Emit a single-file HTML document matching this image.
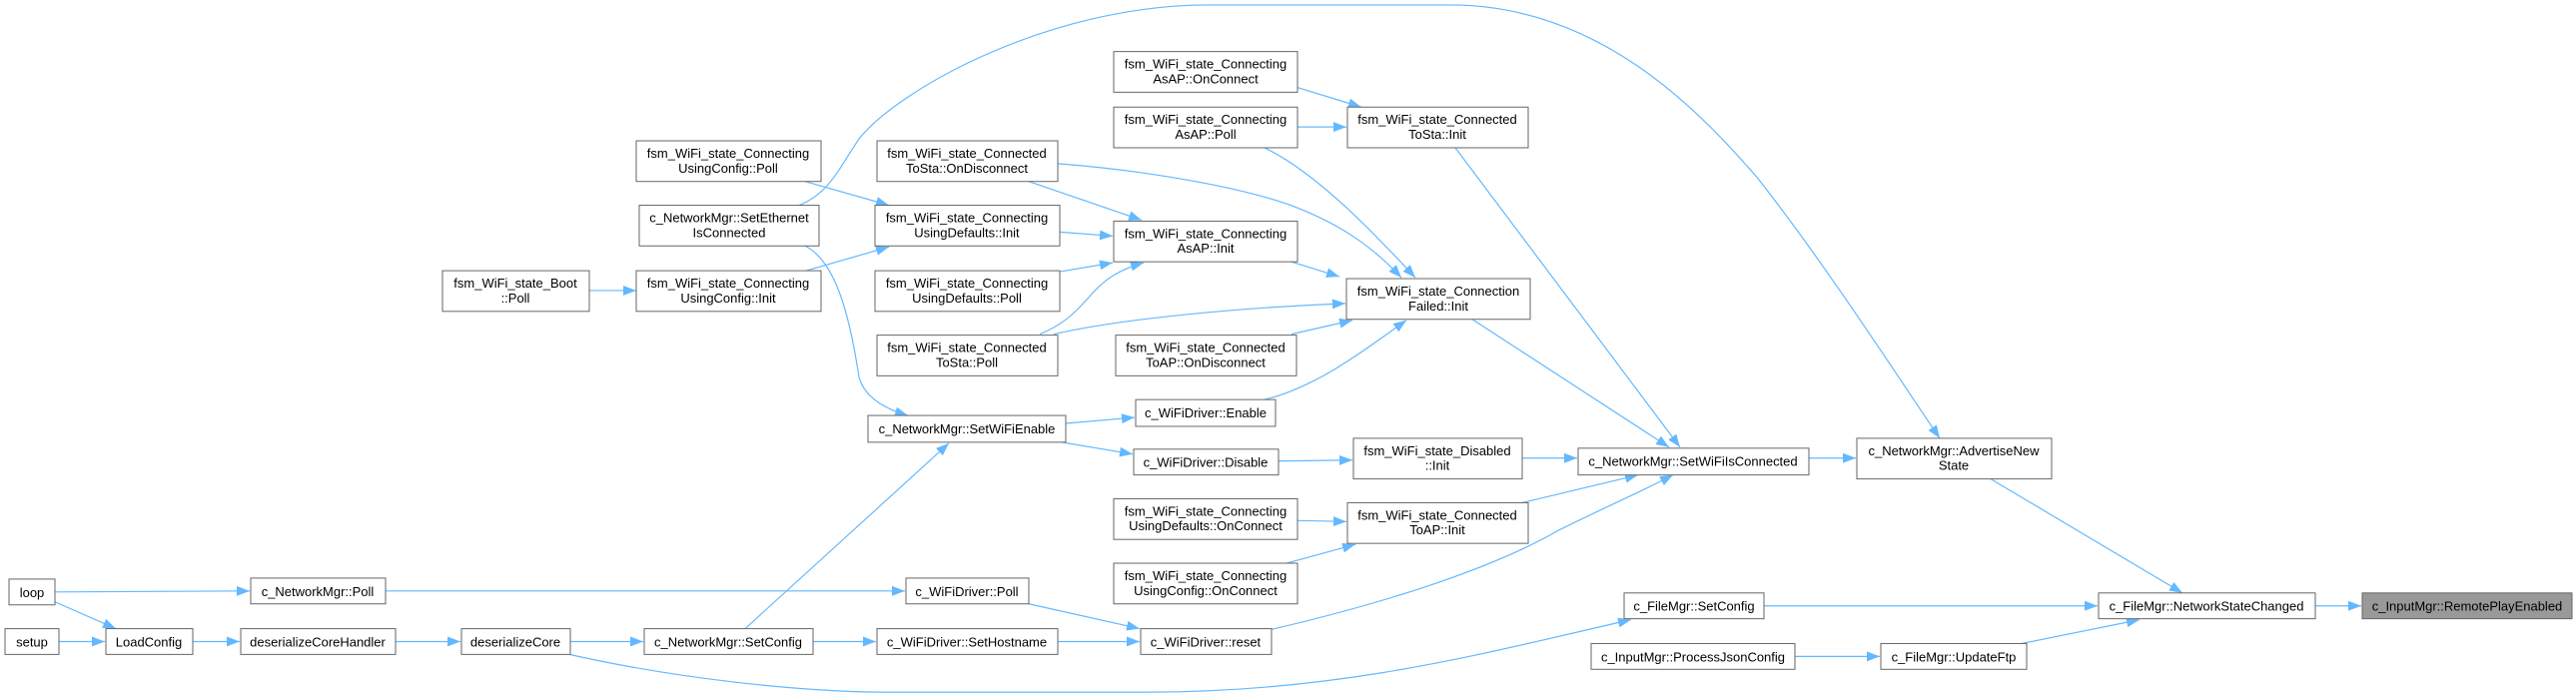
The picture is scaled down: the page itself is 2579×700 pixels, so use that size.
<!DOCTYPE html>
<html><head><meta charset="utf-8"><style>
html,body{margin:0;padding:0;background:#fff;}
svg{display:block;}
text{font-family:"Liberation Sans",Arial,sans-serif;font-size:13px;fill:#000;text-anchor:middle;}
rect{fill:#fff;stroke:#666;stroke-width:1;}
path.e{fill:none;stroke:#63b8ff;stroke-width:1.2;}
</style></head><body>
<svg width="2579" height="700" viewBox="0 0 2579 700" xmlns="http://www.w3.org/2000/svg">
<defs>
<marker id="a" markerUnits="userSpaceOnUse" markerWidth="14" markerHeight="10" refX="13" refY="5" orient="auto">
<path d="M0,0 L13,5 L0,10 Z" fill="#63b8ff"/>
</marker>
</defs>
<g transform="scale(1,0.993)">
<g marker-end="url(#a)">
<path class="e" d="M590,293 L637,293"/>
<path class="e" d="M806,183 L890,207"/>
<path class="e" d="M807,273 L890,249"/>
<path class="e" d="M800,207 C830,195 840,170 860,140 C900,90 1050,5 1210,5 L1452,5 C1600,5 1700,110 1760,180 C1830,270 1900,380 1942,442"/>
<path class="e" d="M806,248 C840,265 852,330 860,380 C865,400 885,412 909,419"/>
<path class="e" d="M1030,183 L1143,222"/>
<path class="e" d="M1059,165 C1150,172 1250,190 1300,210 C1350,230 1380,255 1403,280"/>
<path class="e" d="M1061,234 L1114,238"/>
<path class="e" d="M1061,274 L1114,265"/>
<path class="e" d="M1041,337 C1070,325 1080,310 1090,300 C1105,282 1120,272 1145,265"/>
<path class="e" d="M1055,337 C1130,320 1250,310 1347,306"/>
<path class="e" d="M1266,149 C1320,175 1380,240 1417,280"/>
<path class="e" d="M1293,264 L1341,279"/>
<path class="e" d="M1293,337 L1354,323"/>
<path class="e" d="M1266,403 C1320,390 1370,350 1408,323"/>
<path class="e" d="M1282,83 L1363,108"/>
<path class="e" d="M1299,128 L1348,128"/>
<path class="e" d="M1457,149 L1682,451"/>
<path class="e" d="M1474,322 L1671,451"/>
<path class="e" d="M1067,427 L1136,421"/>
<path class="e" d="M1063,446 L1134,458"/>
<path class="e" d="M1280,465 L1354,464"/>
<path class="e" d="M1524,462 L1579,462"/>
<path class="e" d="M1524,507 L1640,479"/>
<path class="e" d="M1272,635 C1400,605 1500,570 1560,535 C1610,510 1645,495 1675,479"/>
<path class="e" d="M1299,525 L1348,526"/>
<path class="e" d="M1288,568 L1357,549"/>
<path class="e" d="M55,597 L250,596"/>
<path class="e" d="M55,607 L116,634"/>
<path class="e" d="M59,647 L105,647"/>
<path class="e" d="M193,647 L240,647"/>
<path class="e" d="M396,647 L461,647"/>
<path class="e" d="M571,647 L644,647"/>
<path class="e" d="M570,660 C680,685 800,697 880,698 L1150,698 C1350,698 1500,655 1633,625"/>
<path class="e" d="M386,596 L906,596"/>
<path class="e" d="M746,634 L950,447"/>
<path class="e" d="M814,647 L877,647"/>
<path class="e" d="M1030,609 L1141,634"/>
<path class="e" d="M1059,647 L1141,647"/>
<path class="e" d="M1811,462 L1858,462"/>
<path class="e" d="M1993,483 L2185,598"/>
<path class="e" d="M1766,611 L2100,611"/>
<path class="e" d="M2024,649 L2142,625"/>
<path class="e" d="M1797,662 L1882,662"/>
<path class="e" d="M2318,611 L2364,611"/>
</g>
<rect x="637" y="142" width="185" height="41"/><text x="729" y="159">fsm_WiFi_state_Connecting</text><text x="729" y="174">UsingConfig::Poll</text>
<rect x="640" y="207" width="180" height="41"/><text x="730" y="224">c_NetworkMgr::SetEthernet</text><text x="730" y="239">IsConnected</text>
<rect x="443" y="273" width="147" height="41"/><text x="516" y="290">fsm_WiFi_state_Boot</text><text x="516" y="305">::Poll</text>
<rect x="637" y="273" width="185" height="41"/><text x="729" y="290">fsm_WiFi_state_Connecting</text><text x="729" y="305">UsingConfig::Init</text>
<rect x="9" y="584" width="46" height="26"/><text x="32" y="602">loop</text>
<rect x="251" y="583" width="135" height="26"/><text x="318" y="601">c_NetworkMgr::Poll</text>
<rect x="5" y="634" width="54" height="26"/><text x="32" y="652">setup</text>
<rect x="106" y="634" width="87" height="26"/><text x="149" y="652">LoadConfig</text>
<rect x="241" y="634" width="155" height="26"/><text x="318" y="652">deserializeCoreHandler</text>
<rect x="462" y="634" width="109" height="26"/><text x="516" y="652">deserializeCore</text>
<rect x="645" y="634" width="169" height="26"/><text x="729" y="652">c_NetworkMgr::SetConfig</text>

<rect x="1115" y="52" width="184" height="41"/><text x="1207" y="69">fsm_WiFi_state_Connecting</text><text x="1207" y="84">AsAP::OnConnect</text>
<rect x="1115" y="108" width="184" height="41"/><text x="1207" y="125">fsm_WiFi_state_Connecting</text><text x="1207" y="140">AsAP::Poll</text>
<rect x="1349" y="108" width="181" height="41"/><text x="1439" y="125">fsm_WiFi_state_Connected</text><text x="1439" y="140">ToSta::Init</text>
<rect x="878" y="142" width="181" height="41"/><text x="968" y="159">fsm_WiFi_state_Connected</text><text x="968" y="174">ToSta::OnDisconnect</text>
<rect x="876" y="207" width="185" height="41"/><text x="968" y="224">fsm_WiFi_state_Connecting</text><text x="968" y="239">UsingDefaults::Init</text>
<rect x="1115" y="223" width="184" height="41"/><text x="1207" y="240">fsm_WiFi_state_Connecting</text><text x="1207" y="255">AsAP::Init</text>
<rect x="876" y="273" width="185" height="41"/><text x="968" y="290">fsm_WiFi_state_Connecting</text><text x="968" y="305">UsingDefaults::Poll</text>
<rect x="1348" y="281" width="184" height="41"/><text x="1440" y="298">fsm_WiFi_state_Connection</text><text x="1440" y="313">Failed::Init</text>
<rect x="878" y="338" width="181" height="41"/><text x="968" y="355">fsm_WiFi_state_Connected</text><text x="968" y="370">ToSta::Poll</text>
<rect x="1117" y="338" width="181" height="41"/><text x="1207" y="355">fsm_WiFi_state_Connected</text><text x="1207" y="370">ToAP::OnDisconnect</text>
<rect x="869" y="419" width="198" height="27"/><text x="968" y="437">c_NetworkMgr::SetWiFiEnable</text>
<rect x="1137" y="403" width="140" height="27"/><text x="1207" y="421">c_WiFiDriver::Enable</text>
<rect x="1135" y="453" width="145" height="26"/><text x="1207" y="471">c_WiFiDriver::Disable</text>
<rect x="1355" y="442" width="169" height="41"/><text x="1439" y="459">fsm_WiFi_state_Disabled</text><text x="1439" y="474">::Init</text>
<rect x="1580" y="452" width="231" height="27"/><text x="1695" y="470">c_NetworkMgr::SetWiFiIsConnected</text>
<rect x="1115" y="503" width="184" height="41"/><text x="1207" y="520">fsm_WiFi_state_Connecting</text><text x="1207" y="535">UsingDefaults::OnConnect</text>
<rect x="1349" y="507" width="181" height="41"/><text x="1439" y="524">fsm_WiFi_state_Connected</text><text x="1439" y="539">ToAP::Init</text>
<rect x="1115" y="568" width="184" height="41"/><text x="1207" y="585">fsm_WiFi_state_Connecting</text><text x="1207" y="600">UsingConfig::OnConnect</text>
<rect x="907" y="583" width="123" height="26"/><text x="968" y="601">c_WiFiDriver::Poll</text>
<rect x="878" y="634" width="181" height="26"/><text x="968" y="652">c_WiFiDriver::SetHostname</text>
<rect x="1142" y="634" width="131" height="26"/><text x="1207" y="652">c_WiFiDriver::reset</text>
<rect x="1626" y="598" width="140" height="26"/><text x="1696" y="616">c_FileMgr::SetConfig</text>
<rect x="1593" y="649" width="204" height="26"/><text x="1695" y="667">c_InputMgr::ProcessJsonConfig</text>
<rect x="1859" y="442" width="195" height="41"/><text x="1956" y="459">c_NetworkMgr::AdvertiseNew</text><text x="1956" y="474">State</text>
<rect x="2101" y="598" width="217" height="26"/><text x="2209" y="616">c_FileMgr::NetworkStateChanged</text>
<rect x="2365" y="598" width="210" height="26" style="fill:#999"/><text x="2470" y="616">c_InputMgr::RemotePlayEnabled</text>
<rect x="1883" y="649" width="146" height="26"/><text x="1956" y="667">c_FileMgr::UpdateFtp</text>
</g>
</svg>
</body></html>
